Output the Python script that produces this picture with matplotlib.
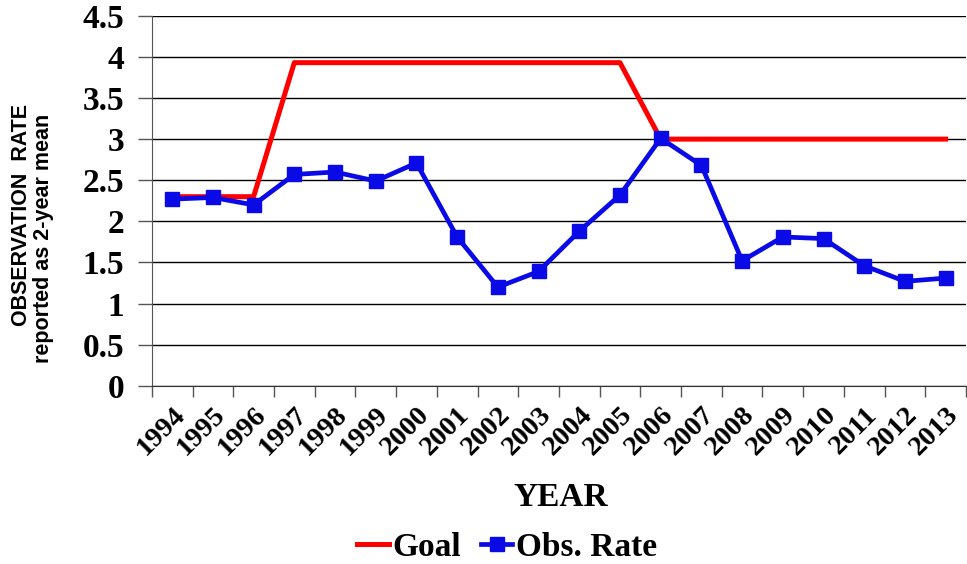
import numpy as np
import matplotlib
matplotlib.use("Agg")
from matplotlib import pyplot as plt
from matplotlib.ticker import FixedLocator

years = [str(y) for y in range(1994, 2014)]
goal = [2.3, 2.3, 2.3, 3.93, 3.93, 3.93, 3.93, 3.93, 3.93, 3.93, 3.93, 3.93,
        3.0, 3.0, 3.0, 3.0, 3.0, 3.0, 3.0, 3.0]
obs_rate = [2.27, 2.29, 2.2, 2.57, 2.6, 2.49, 2.71, 1.81, 1.2, 1.39, 1.88, 2.32,
            3.01, 2.68, 1.52, 1.81, 1.79, 1.46, 1.27, 1.31]
yticks = [0, 0.5, 1, 1.5, 2, 2.5, 3, 3.5, 4, 4.5]
ytick_labels = ['0', '0.5', '1', '1.5', '2', '2.5', '3', '3.5', '4', '4.5']

serif = 'Liberation Serif'
sans = 'Liberation Sans'

fig = plt.figure(figsize=(9.67, 5.64), dpi=100)
ax = fig.add_axes([0.157, 0.316, 0.842, 0.656])

x = np.arange(len(years))
ax.plot(x, goal, color='#ff0000', lw=3.6, label='Goal', zorder=3)
ax.plot(x, obs_rate, color='#0a0ae6', lw=3.4, marker='s', markersize=10.5,
        label='Obs. Rate', zorder=4)

ax.set_xlim(-0.5, len(years) - 0.5)
ax.set_ylim(0, 4.5)

# gridlines
ax.set_yticks(yticks)
ax.set_yticklabels(ytick_labels, fontfamily=serif, fontweight='bold', fontsize=24)
ax.yaxis.grid(True, color='black', lw=1)
ax.set_axisbelow(True)
ax.tick_params(axis='y', length=10, width=1, color='#555555', pad=10)

# category labels in the middle, tick marks between categories
ax.set_xticks(x)
ax.set_xticklabels(years, fontfamily=serif, fontweight='bold', fontsize=20.5,
                   rotation=45, ha='right', rotation_mode='anchor')
ax.tick_params(axis='x', which='major', length=0, pad=12)
ax.xaxis.set_minor_locator(FixedLocator(np.arange(-0.5, len(years), 1)))
ax.tick_params(axis='x', which='minor', length=8, width=1, color='#555555')

for s in ['top', 'right']:
    ax.spines[s].set_visible(False)
ax.spines['left'].set_color('#555555')
ax.spines['bottom'].set_color('#333333')

fig.text(561 / 967, 1 - 497 / 564, 'YEAR', ha='center', va='center',
         fontfamily=serif, fontweight='bold', fontsize=24)

fig.text(22 / 967, 1 - 215 / 564, 'OBSERVATION  RATE', rotation=90,
         ha='center', va='center', fontfamily=sans, fontweight='bold', fontsize=15.5)
fig.text(44 / 967, 1 - 238 / 564, 'reported as 2-year mean', rotation=90,
         ha='center', va='center', fontfamily=sans, fontweight='bold', fontsize=15.5)

fig.legend(loc='center', bbox_to_anchor=(507 / 967, 1 - 547 / 564), ncol=2,
           frameon=False, prop={'family': serif, 'weight': 'bold', 'size': 24},
           handlelength=0.95, handletextpad=0.1, columnspacing=0.6, markerscale=1.0)

fig.savefig('out.png', dpi=100)
